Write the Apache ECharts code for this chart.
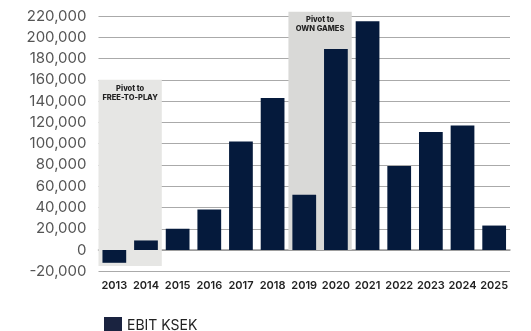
<!DOCTYPE html>
<html>
<head>
<meta charset="utf-8">
<script src="https://cdn.jsdelivr.net/npm/echarts@6/dist/echarts.min.js"></script>
<style>
  html, body { margin: 0; padding: 0; background: #fff; }
  #chart { width: 531px; height: 331px; }
</style>
</head>
<body>
<div id="chart"></div>
<script>
// EBIT per year, thousands of SEK
const years = ['2013','2014','2015','2016','2017','2018','2019','2020','2021','2022','2023','2024','2025'];
const ebit = [-12000, 9000, 20000, 38000, 102000, 143000, 52000, 189000, 215000, 79000, 111000, 117000, 23000];

// Strategy periods: [first year index, last year index, low, high, caption]
const periods = [
  [0, 1, -15000, 160000, 'Pivot to\nFREE-TO-PLAY'],
  [6, 7, 0, 224000, 'Pivot to\nOWN GAMES']
];
const periodFills = ['#e6e6e4', '#d9d9d7'];

const FONT = 'Inter, "Noto Sans", sans-serif';

const chart = echarts.init(document.getElementById('chart'), null, { renderer: 'canvas' });

chart.setOption({
  animation: false,
  grid: { left: 98.5, right: 21, top: 16, bottom: 59.7, containLabel: false },
  legend: {
    left: 99, top: 312,
    itemWidth: 18, itemHeight: 18, itemGap: 6,
    icon: 'rect',
    data: [{ name: 'EBIT KSEK', itemStyle: { color: '#1a2340' } }],
    textStyle: { fontFamily: FONT, fontSize: 14, color: '#222' }
  },
  xAxis: {
    type: 'category',
    data: years,
    axisTick: { show: false },
    axisLine: { show: true, onZero: true, lineStyle: { color: '#9a9a9a', width: 1.5 } },
    axisLabel: {
      fontFamily: FONT, fontSize: 11, fontWeight: 600, color: '#222',
      margin: 9, interval: 0
    }
  },
  yAxis: {
    type: 'value',
    min: -20000, max: 220000, interval: 20000,
    axisLine: { show: false },
    axisTick: { show: false },
    splitLine: { lineStyle: { color: '#aaaaaa', width: 1 } },
    axisLabel: {
      fontFamily: FONT, fontSize: 15, color: '#555', margin: 12,
      formatter: v => v.toLocaleString('en-US')
    }
  },
  series: [
    {
      type: 'custom',
      name: 'periods',
      silent: true,
      z: 1,
      data: periods.map(p => [p[0], p[1], p[2], p[3]]),
      renderItem: function (params, api) {
        const i = params.dataIndex;
        const band = api.size([1, 0])[0];
        const p0 = api.coord([api.value(0), api.value(3)]);
        const p1 = api.coord([api.value(1), api.value(2)]);
        const x0 = p0[0] - band / 2;
        const x1 = p1[0] + band / 2;
        return {
          type: 'group',
          children: [
            {
              type: 'rect',
              shape: { x: x0, y: p0[1], width: x1 - x0, height: p1[1] - p0[1] },
              style: { fill: periodFills[i] }
            },
            {
              type: 'text',
              x: (x0 + x1) / 2,
              y: p0[1] + 4,
              style: {
                text: periods[i][4],
                align: 'center',
                verticalAlign: 'top',
                fontFamily: FONT,
                fontSize: 7.5,
                fontWeight: 800,
                lineHeight: 9,
                fill: '#222'
              }
            }
          ]
        };
      }
    },
    {
      type: 'bar',
      name: 'EBIT KSEK',
      z: 3,
      data: ebit,
      barWidth: '75%',
      itemStyle: { color: '#051a3c' }
    }
  ]
});
</script>
</body>
</html>
